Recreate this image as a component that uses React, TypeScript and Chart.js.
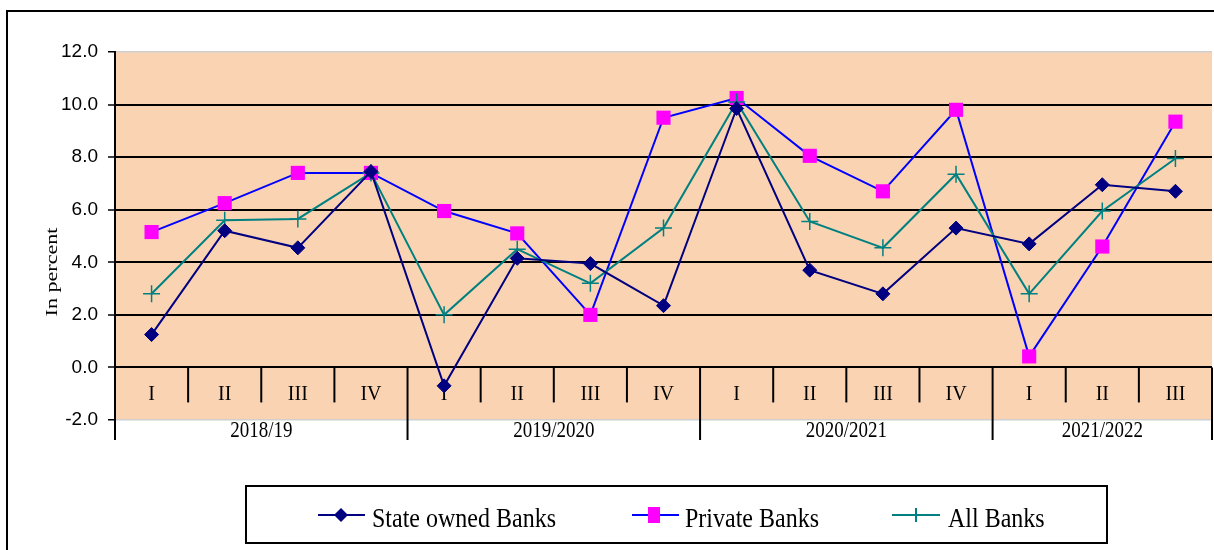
import React, { useEffect, useRef } from 'react';
import { Chart, registerables } from 'chart.js';

Chart.register(...registerables);

// ---------- DATA ----------
const quarters = ['I', 'II', 'III', 'IV', 'I', 'II', 'III', 'IV', 'I', 'II', 'III', 'IV', 'I', 'II', 'III'];
const years = ['2018/19', '2019/2020', '2020/2021', '2021/2022'];
const quartersPerYear = [4, 4, 4, 3];
const stateOwnedBanks = [1.25, 5.2, 4.55, 7.45, -0.7, 4.15, 3.95, 2.35, 9.85, 3.7, 2.8, 5.3, 4.7, 6.95, 6.7];
const privateBanks = [5.15, 6.25, 7.4, 7.4, 5.95, 5.1, 2.0, 9.5, 10.25, 8.05, 6.7, 9.8, 0.42, 4.6, 9.35];
const allBanks = [2.8, 5.6, 5.65, 7.4, 2.0, 4.5, 3.2, 5.3, 10.1, 5.55, 4.55, 7.35, 2.8, 5.95, 7.95];
const yMin = -2;
const yMax = 12;
const yStep = 2;
const yTitle = 'In percent';
const seriesNames = ['State owned Banks', 'Private Banks', 'All Banks'];

// ---------- STYLE ----------
const PEACH = 'rgb(250,212,178)';
const NAVY = '#000080';
const BLUE = '#0000FF';
const MAGENTA = '#FF00FF';
const TEAL = '#008080';
const SERIF = '"Liberation Serif", "Times New Roman", serif';
const SANS = '"Liberation Sans", Arial, sans-serif';

// build category labels from quarters and years
const categories: string[] = [];
{
  let k = 0;
  years.forEach((yr, yi) => {
    for (let q = 0; q < quartersPerYear[yi]; q++) {
      categories.push(`${yr} ${quarters[k]}`);
      k++;
    }
  });
}

function drawText(
  ctx: CanvasRenderingContext2D,
  text: string,
  x: number,
  y: number,
  font: string,
  sx: number,
  sy: number,
  align: CanvasTextAlign
) {
  ctx.save();
  ctx.translate(x, y);
  ctx.scale(sx, sy);
  ctx.font = font;
  ctx.textAlign = align;
  ctx.textBaseline = 'alphabetic';
  ctx.fillStyle = '#000';
  ctx.fillText(text, 0, 0);
  ctx.restore();
}

const decorPlugin = {
  id: 'decor',
  beforeDraw(chart: any) {
    const { ctx, chartArea: a } = chart;
    ctx.save();
    ctx.fillStyle = '#fff';
    ctx.fillRect(0, 0, chart.width, chart.height);
    // outer frame
    ctx.strokeStyle = '#000';
    ctx.lineWidth = 2;
    ctx.beginPath();
    ctx.moveTo(7, 600);
    ctx.lineTo(7, 11);
    ctx.lineTo(1300, 11);
    ctx.stroke();
    // plot background
    ctx.fillStyle = PEACH;
    ctx.fillRect(a.left, a.top, a.right - a.left, a.bottom - a.top);
    ctx.restore();
  },
  beforeDatasetsDraw(chart: any) {
    const { ctx, chartArea: a } = chart;
    const xs = chart.scales.x;
    const ys = chart.scales.y;
    const y0 = ys.getPixelForValue(0);
    ctx.save();
    ctx.strokeStyle = '#000';
    ctx.lineWidth = 2;
    const yearEnds: number[] = [];
    let acc = 0;
    quartersPerYear.forEach((n) => {
      acc += n;
      yearEnds.push(acc - 1);
    });
    const n = quarters.length;
    for (let i = 0; i < n - 1; i++) {
      const bx = (xs.getPixelForValue(i) + xs.getPixelForValue(i + 1)) / 2;
      const isYear = yearEnds.includes(i);
      ctx.beginPath();
      ctx.moveTo(bx, y0);
      ctx.lineTo(bx, isYear ? a.bottom + 20 : y0 + 35);
      ctx.stroke();
    }
    ctx.beginPath();
    ctx.moveTo(a.right, y0);
    ctx.lineTo(a.right, a.bottom + 20);
    ctx.moveTo(a.left, a.bottom);
    ctx.lineTo(a.left, a.bottom + 20);
    ctx.stroke();
    for (let i = 0; i < n; i++) {
      drawText(ctx, quarters[i], xs.getPixelForValue(i), y0 + 33, `20px ${SERIF}`, 1, 1.07, 'center');
    }
    let start = 0;
    years.forEach((yr, yi) => {
      const end = start + quartersPerYear[yi] - 1;
      const left = start === 0 ? a.left : (xs.getPixelForValue(start - 1) + xs.getPixelForValue(start)) / 2;
      const right = end === n - 1 ? a.right : (xs.getPixelForValue(end) + xs.getPixelForValue(end + 1)) / 2;
      drawText(ctx, yr, (left + right) / 2, a.bottom + 17, `19px ${SERIF}`, 1, 1.2, 'center');
      start = end + 1;
    });
    ctx.restore();
  },
  afterDraw(chart: any) {
    const { ctx } = chart;
    ctx.save();
    ctx.translate(56.5, 272);
    ctx.rotate(-Math.PI / 2);
    ctx.scale(1.3, 1);
    ctx.font = `17px ${SERIF}`;
    ctx.textAlign = 'center';
    ctx.textBaseline = 'alphabetic';
    ctx.fillStyle = '#000';
    ctx.fillText(yTitle, 0, 0);
    ctx.restore();

    ctx.save();
    ctx.strokeStyle = '#000';
    ctx.lineWidth = 2;
    ctx.strokeRect(246, 486, 861, 57);
    const ly = 515;
    ctx.strokeStyle = NAVY;
    ctx.lineWidth = 2;
    ctx.beginPath();
    ctx.moveTo(318, ly);
    ctx.lineTo(365, ly);
    ctx.stroke();
    ctx.fillStyle = NAVY;
    ctx.beginPath();
    ctx.moveTo(341, ly - 7);
    ctx.lineTo(348, ly);
    ctx.lineTo(341, ly + 7);
    ctx.lineTo(334, ly);
    ctx.closePath();
    ctx.fill();
    drawText(ctx, seriesNames[0], 372, 527, `24px ${SERIF}`, 1, 1.1, 'left');
    ctx.strokeStyle = BLUE;
    ctx.beginPath();
    ctx.moveTo(632, ly);
    ctx.lineTo(679, ly);
    ctx.stroke();
    ctx.fillStyle = MAGENTA;
    ctx.fillRect(648, ly - 8, 12, 16);
    drawText(ctx, seriesNames[1], 685, 527, `24px ${SERIF}`, 1, 1.1, 'left');
    ctx.strokeStyle = TEAL;
    ctx.beginPath();
    ctx.moveTo(892, ly);
    ctx.lineTo(940, ly);
    ctx.moveTo(916, ly - 7);
    ctx.lineTo(916, ly + 7);
    ctx.stroke();
    drawText(ctx, seriesNames[2], 948, 527, `24px ${SERIF}`, 1, 1.1, 'left');
    ctx.restore();
  },
};

export default function App() {
  const ref = useRef<HTMLCanvasElement | null>(null);

  useEffect(() => {
    document.body.style.margin = '0';
    document.body.style.overflow = 'hidden';
    const canvas = ref.current;
    if (!canvas) return;
    const chart = new Chart(canvas, {
      type: 'line',
      data: {
        labels: categories,
        datasets: [
          {
            label: seriesNames[0],
            data: stateOwnedBanks,
            borderColor: NAVY,
            backgroundColor: NAVY,
            borderWidth: 2,
            pointStyle: 'rectRot',
            pointRadius: 7,
            pointBorderWidth: 1,
            pointBackgroundColor: NAVY,
            pointBorderColor: NAVY,
            tension: 0,
            clip: false,
            order: 0,
          },
          {
            label: seriesNames[1],
            data: privateBanks,
            borderColor: BLUE,
            backgroundColor: MAGENTA,
            borderWidth: 2,
            pointStyle: 'rect',
            pointRadius: 10,
            pointBorderWidth: 0,
            pointBackgroundColor: MAGENTA,
            pointBorderColor: MAGENTA,
            tension: 0,
            clip: false,
            order: 2,
          },
          {
            label: seriesNames[2],
            data: allBanks,
            borderColor: TEAL,
            backgroundColor: TEAL,
            borderWidth: 2,
            pointStyle: 'cross',
            pointRadius: 8.5,
            pointBorderWidth: 1.5,
            pointBackgroundColor: TEAL,
            pointBorderColor: TEAL,
            tension: 0,
            clip: false,
            order: 1,
          },
        ],
      },
      options: {
        responsive: false,
        animation: false,
        devicePixelRatio: 1,
        layout: { autoPadding: false, padding: { top: 52, bottom: 130, left: 0, right: 2 } },
        plugins: {
          legend: { display: false },
          tooltip: { enabled: false },
          title: { display: false },
        },
        scales: {
          x: {
            type: 'category',
            offset: true,
            display: false,
          },
          y: {
            min: yMin,
            max: yMax,
            afterFit: (s: any) => {
              s.width = 115;
            },
            ticks: {
              stepSize: yStep,
              padding: 10,
              color: '#000',
              font: { family: SANS, size: 19 },
              callback: (v: any) => Number(v).toFixed(1),
            },
            grid: {
              color: (c: any) => (c.tick && (c.tick.value === yMin || c.tick.value === yMax) ? '#cfcfcf' : '#000'),
              lineWidth: (c: any) => (c.tick && (c.tick.value === yMin || c.tick.value === yMax) ? 1.5 : 2),
              tickColor: '#000',
              tickWidth: 1.5,
              tickLength: 7,
              drawTicks: true,
            },
            border: { display: true, color: '#000', width: 2 },
          },
        },
      },
      plugins: [decorPlugin],
    } as any);
    return () => chart.destroy();
  }, []);

  return (
    <div style={{ width: 1214, height: 550 }}>
      <canvas ref={ref} width={1214} height={550} style={{ display: 'block', width: 1214, height: 550 }} />
    </div>
  );
}
